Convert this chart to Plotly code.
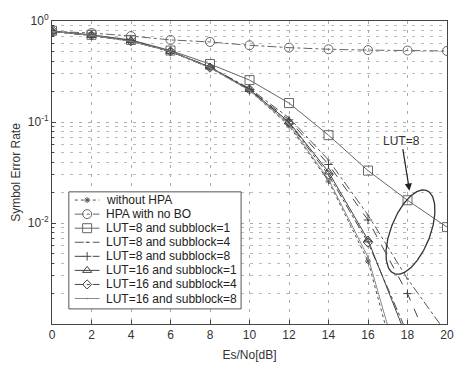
import numpy as np
import plotly.graph_objects as go

snr = [0, 2, 4, 6, 8, 10, 12, 14, 16, 18, 20]

without_hpa = [0.79, 0.72, 0.63, 0.50, 0.345, 0.205, 0.092, 0.026, 0.0042, 1.5e-4, None]
hpa_no_bo = [0.79, 0.76, 0.71, 0.65, 0.62, 0.575, 0.545, 0.525, 0.515, 0.51, 0.505]
lut8_sb1 = [0.80, 0.73, 0.65, 0.51, 0.375, 0.26, 0.154, 0.074, 0.033, 0.0168, 0.0091]
lut8_sb4 = [0.79, 0.72, 0.64, 0.50, 0.35, 0.215, 0.11, 0.042, 0.012, 0.0028, 8e-4]
lut8_sb8 = [0.79, 0.72, 0.64, 0.50, 0.35, 0.21, 0.105, 0.038, 0.0107, 0.002, 2.5e-4]
lut16_sb1 = [0.79, 0.72, 0.64, 0.50, 0.35, 0.21, 0.10, 0.032, 0.0068, 7e-4, None]
lut16_sb4 = [0.79, 0.72, 0.63, 0.50, 0.345, 0.21, 0.098, 0.030, 0.0064, 8e-4, None]
lut16_sb8 = [0.79, 0.72, 0.63, 0.50, 0.345, 0.205, 0.095, 0.027, 0.0046, 2e-4, None]

x_ticks = list(range(0, 21, 2))
y_tickvals = [1, 0.1, 0.01]
y_ticktext = ["10<sup>0</sup>", "10<sup>-1</sup>", "10<sup>-2</sup>"]

names = ["without HPA", "HPA with no BO", "LUT=8 and subblock=1", "LUT=8 and subblock=4",
         "LUT=8 and subblock=8", "LUT=16 and subblock=1", "LUT=16 and subblock=4",
         "LUT=16 and subblock=8"]
series = [without_hpa, hpa_no_bo, lut8_sb1, lut8_sb4, lut8_sb8, lut16_sb1, lut16_sb4, lut16_sb8]
styles = [
    dict(dash="dot", symbol="asterisk-open", size=5, color="#555"),
    dict(dash="dashdot", symbol="circle-open", size=9, color="#666"),
    dict(dash="solid", symbol="square-open", size=9, color="#666"),
    dict(dash="dashdot", symbol="line-ew", size=2, color="#555"),
    dict(dash="dash", symbol="cross-thin-open", size=6, color="#444"),
    dict(dash="solid", symbol="triangle-up-open", size=8, color="#444"),
    dict(dash="dashdot", symbol="diamond-open", size=7, color="#444"),
    dict(dash="solid", symbol="circle", size=1, color="#888"),
]

fig = go.Figure()
for nm, ys, st in zip(names, series, styles):
    fig.add_trace(go.Scatter(
        x=snr, y=ys, name=nm, mode="lines+markers", showlegend=False,
        line=dict(color=st["color"], width=1, dash=st["dash"]),
        marker=dict(symbol=st["symbol"], size=st["size"], color=st["color"],
                    line=dict(color=st["color"], width=1)),
    ))

# Ellipse highlighting LUT=8 curves
cx, cy_log = 18.15, -2.09
x_per_px, dec_per_px = 20 / 399, 3 / 321
a_px, b_px, theta = 47, 20, np.deg2rad(70)
t = np.linspace(0, 2 * np.pi, 200)
ex_px = a_px * np.cos(t) * np.cos(theta) - b_px * np.sin(t) * np.sin(theta)
ey_px = a_px * np.cos(t) * np.sin(theta) + b_px * np.sin(t) * np.cos(theta)
fig.add_trace(go.Scatter(
    x=cx + ex_px * x_per_px, y=10 ** (cy_log + ey_px * dec_per_px),
    mode="lines", line=dict(color="#333", width=1.3), showlegend=False, hoverinfo="skip"))

fig.add_annotation(x=18.1, y=-1.68, xref="x", yref="y", text="LUT=8",
                   showarrow=True, arrowhead=2, arrowsize=1.2, arrowwidth=1.2,
                   arrowcolor="#222", ax=-8, ay=-50,
                   font=dict(size=12, color="#333", family="Liberation Sans, Arial"))

# Manual legend drawn on an overlay axis measured in pixels
box_l, box_r, box_t, box_b = 69, 243, 193, 317
fig.add_trace(go.Scatter(
    x=[box_l, box_r, box_r, box_l, box_l], y=[box_t, box_t, box_b, box_b, box_t],
    xaxis="x2", yaxis="y2", mode="lines", fill="toself", fillcolor="white",
    line=dict(color="#555", width=1), showlegend=False, hoverinfo="skip"))
row_y0, row_step = 201.7, 14.9
for i, (nm, st) in enumerate(zip(names, styles)):
    yy = row_y0 + i * row_step
    fig.add_trace(go.Scatter(
        x=[75, 87.5, 100], y=[yy, yy, yy], xaxis="x2", yaxis="y2",
        mode="lines", line=dict(color=st["color"], width=1, dash=st["dash"]),
        showlegend=False, hoverinfo="skip"))
    fig.add_trace(go.Scatter(
        x=[87.5], y=[yy], xaxis="x2", yaxis="y2", mode="markers",
        marker=dict(symbol=st["symbol"], size=st["size"], color=st["color"],
                    line=dict(color=st["color"], width=1)),
        showlegend=False, hoverinfo="skip"))
    fig.add_annotation(x=105, y=yy, xref="x2", yref="y2", text=nm, showarrow=False,
                       xanchor="left", yanchor="middle",
                       font=dict(size=12, color="#222", family="Liberation Sans, Arial"))

grid_dash = "3px,6px"

fig.update_layout(
    width=466, height=372,
    margin=dict(l=52, r=15, t=12, b=39),
    paper_bgcolor="white", plot_bgcolor="white",
    font=dict(family="Liberation Sans, Arial", size=12, color="#333"),
    xaxis=dict(range=[0, 20], tickvals=x_ticks,
               title=dict(text="Es/No[dB]", font=dict(size=12, color="#333"), standoff=9),
               showline=True, linecolor="#444", linewidth=1, mirror=True,
               ticks="inside", ticklen=4, tickcolor="#444",
               showgrid=True, gridcolor="#aaa", griddash=grid_dash, gridwidth=1,
               zeroline=False, tickfont=dict(size=12, color="#333")),
    yaxis=dict(type="log", range=[-3, 0], tickvals=y_tickvals, ticktext=y_ticktext,
               title=dict(text="Symbol Error Rate", font=dict(size=12, color="#333"), standoff=4),
               showline=True, linecolor="#444", linewidth=1, mirror=True,
               ticks="inside", ticklen=4, tickcolor="#444",
               showgrid=True, gridcolor="#aaa", griddash=grid_dash, gridwidth=1,
               zeroline=False, tickfont=dict(size=12, color="#333"),
               minor=dict(tickvals=[k * 10.0 ** e for e in (-3, -2, -1) for k in range(2, 10)],
                          showgrid=True, gridcolor="#bbb", griddash=grid_dash,
                          ticks="inside", ticklen=2, tickcolor="#444")),
    xaxis2=dict(overlaying="x", range=[52, 451], visible=False, showgrid=False),
    yaxis2=dict(overlaying="y", range=[333, 12], visible=False, showgrid=False),
    showlegend=False,
)

fig.write_html("out.html")
